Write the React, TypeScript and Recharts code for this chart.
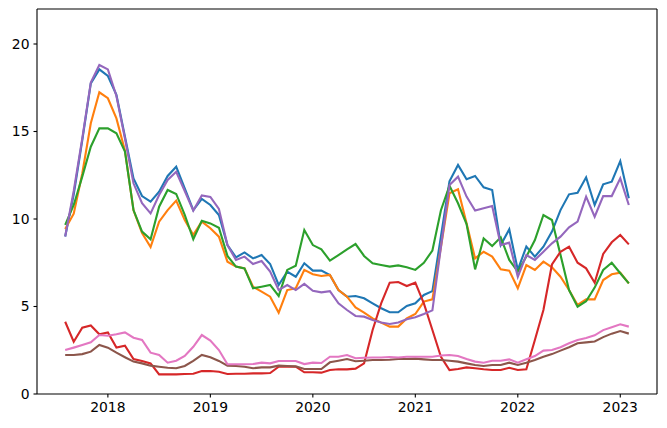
import { LineChart, Line, XAxis, YAxis, ReferenceLine } from "recharts";

// monthly observations, Aug 2017 .. Feb 2023
const months = [
  "2017-08", "2017-09", "2017-10", "2017-11", "2017-12",
  "2018-01", "2018-02", "2018-03", "2018-04", "2018-05", "2018-06", "2018-07", "2018-08", "2018-09", "2018-10", "2018-11", "2018-12",
  "2019-01", "2019-02", "2019-03", "2019-04", "2019-05", "2019-06", "2019-07", "2019-08", "2019-09", "2019-10", "2019-11", "2019-12",
  "2020-01", "2020-02", "2020-03", "2020-04", "2020-05", "2020-06", "2020-07", "2020-08", "2020-09", "2020-10", "2020-11", "2020-12",
  "2021-01", "2021-02", "2021-03", "2021-04", "2021-05", "2021-06", "2021-07", "2021-08", "2021-09", "2021-10", "2021-11", "2021-12",
  "2022-01", "2022-02", "2022-03", "2022-04", "2022-05", "2022-06", "2022-07", "2022-08", "2022-09", "2022-10", "2022-11", "2022-12",
  "2023-01", "2023-02",
];

const blue = [
  9.0, 11.4, 14.5, 17.75, 18.55, 18.17, 17.09, 14.7, 12.32, 11.31, 10.99, 11.56, 12.46, 12.99, 11.75, 10.51, 11.15,
  10.8, 10.23, 8.51, 7.81, 8.09, 7.75, 7.94, 7.43, 6.23, 6.99, 6.7, 7.47,
  7.05, 7.05, 6.8, 5.94, 5.56, 5.6, 5.47, 5.18, 4.9, 4.67, 4.67, 5.03,
  5.18, 5.66, 5.88, 9.0, 12.15, 13.09, 12.27, 12.46, 11.81, 11.66, 8.51, 9.41,
  7.09, 8.42, 7.85, 8.42, 9.28, 10.51, 11.41, 11.5, 12.38, 10.8, 11.98, 12.13,
  13.31, 11.18,
];
const orange = [
  9.43, 10.3, 12.6, 15.47, 17.24, 16.9, 15.75, 13.9, 10.5, 9.2, 8.4, 9.85, 10.51, 11.05, 9.94, 9.09, 9.85,
  9.47, 8.99, 7.56, 7.28, 7.18, 6.13, 5.85, 5.56, 4.65, 5.94, 6.04, 7.09,
  6.84, 6.74, 6.8, 5.94, 5.56, 4.95, 4.65, 4.32, 4.08, 3.85, 3.85, 4.32,
  4.57, 5.28, 5.41, 8.4, 11.47, 11.7, 9.75, 7.75, 8.13, 7.85, 7.12, 7.05,
  6.04, 7.37, 7.09, 7.56, 7.24, 6.7, 5.94, 5.09, 5.41, 5.41, 6.51, 6.84,
  6.93, 6.32,
];
const green = [
  9.66, 10.8, 12.42, 14.13, 15.18, 15.18, 14.9, 13.85, 10.51, 9.28, 8.84, 10.7, 11.66, 11.43, 10.23, 8.84, 9.9,
  9.75, 9.5, 7.89, 7.28, 7.18, 6.04, 6.13, 6.23, 5.6, 7.09, 7.33, 9.37,
  8.51, 8.27, 7.62, 7.94, 8.27, 8.57, 7.89, 7.47, 7.37, 7.28, 7.35, 7.24,
  7.09, 7.5, 8.2, 10.5, 11.9, 10.9, 9.71, 7.12, 8.89, 8.46, 8.95, 7.66,
  6.99, 7.85, 8.8, 10.23, 9.94, 7.95, 5.94, 4.99, 5.3, 6.08, 7.09, 7.5,
  6.9, 6.32,
];
const red = [
  4.13, 2.99, 3.79, 3.92, 3.41, 3.52, 2.65, 2.76, 2.0, 1.89, 1.75, 1.12, 1.12, 1.12, 1.14, 1.16, 1.31,
  1.31, 1.27, 1.14, 1.16, 1.16, 1.18, 1.18, 1.2, 1.56, 1.56, 1.56, 1.24,
  1.24, 1.22, 1.37, 1.41, 1.41, 1.45, 1.75, 3.66, 5.18, 6.36, 6.4, 6.17,
  6.36, 5.18, 3.66, 2.13, 1.37, 1.43, 1.52, 1.47, 1.41, 1.37, 1.37, 1.5,
  1.37, 1.41, 3.09, 4.8, 7.4, 8.13, 8.42, 7.5, 7.18, 6.36, 8.0, 8.67,
  9.09, 8.55,
];
const purple = [
  9.0, 11.6, 14.6, 17.8, 18.8, 18.55, 17.03, 14.6, 12.04, 10.9, 10.32, 11.37, 12.23, 12.7, 11.6, 10.48, 11.35,
  11.26, 10.58, 8.51, 7.66, 7.85, 7.43, 7.6, 6.99, 5.94, 6.23, 5.94, 6.29,
  5.9, 5.81, 5.88, 5.18, 4.8, 4.46, 4.42, 4.23, 4.08, 4.0, 4.08, 4.27,
  4.38, 4.57, 4.78, 8.4, 11.94, 12.42, 11.28, 10.48, 10.61, 10.74, 8.51, 8.65,
  6.7, 7.94, 7.66, 8.13, 8.61, 8.99, 9.52, 9.85, 11.28, 10.13, 11.31, 11.31,
  12.32, 10.8,
];
const brown = [
  2.23, 2.23, 2.28, 2.42, 2.8, 2.65, 2.36, 2.1, 1.85, 1.75, 1.62, 1.56, 1.5, 1.47, 1.6, 1.89, 2.23,
  2.1, 1.89, 1.62, 1.6, 1.56, 1.47, 1.52, 1.52, 1.62, 1.6, 1.58, 1.43,
  1.43, 1.43, 1.81, 1.9, 2.0, 1.87, 1.9, 1.94, 1.94, 1.96, 2.0, 2.0,
  2.02, 1.98, 1.94, 1.94, 1.9, 1.85, 1.75, 1.66, 1.6, 1.66, 1.66, 1.79,
  1.66, 1.79, 1.94, 2.13, 2.28, 2.48, 2.67, 2.9, 2.95, 3.0, 3.25, 3.45,
  3.6, 3.45,
];
const pink = [
  2.51, 2.65, 2.8, 2.95, 3.37, 3.33, 3.41, 3.52, 3.22, 3.09, 2.36, 2.23, 1.79, 1.9, 2.17, 2.7, 3.37,
  3.05, 2.51, 1.7, 1.7, 1.7, 1.71, 1.79, 1.75, 1.89, 1.89, 1.89, 1.71,
  1.79, 1.77, 2.13, 2.13, 2.23, 2.04, 2.07, 2.09, 2.09, 2.11, 2.09, 2.13,
  2.13, 2.13, 2.13, 2.2, 2.23, 2.17, 2.0, 1.85, 1.79, 1.9, 1.9, 1.98,
  1.79, 1.98, 2.17, 2.48, 2.51, 2.67, 2.9, 3.09, 3.2, 3.35, 3.65, 3.82,
  3.98, 3.85,
];

const yearTicks = [2018, 2019, 2020, 2021, 2022, 2023];
const valueTicks = [0, 5, 10, 15, 20];
const Y_MAX = 22;

const SERIES = [
  { key: "a", values: blue, color: "#1f77b4" },
  { key: "b", values: orange, color: "#ff7f0e" },
  { key: "c", values: green, color: "#2ca02c" },
  { key: "d", values: red, color: "#d62728" },
  { key: "e", values: purple, color: "#9467bd" },
  { key: "f", values: brown, color: "#8c564b" },
  { key: "g", values: pink, color: "#e377c2" },
];

// month string -> fractional year
const toYear = (m: string) => {
  const [y, mo] = m.split("-").map(Number);
  return y + (mo - 1) / 12;
};

const data = months.map((m, i) => {
  const row: Record<string, number> = { t: toYear(m) };
  for (const s of SERIES) row[s.key] = s.values[i];
  return row;
});

// matplotlib-style 5% margins on the x range
const tMin = toYear(months[0]);
const tMax = toYear(months[months.length - 1]);
const pad = (tMax - tMin) * 0.05;
const xLo = tMin - pad;
const xHi = tMax + pad;

const tickStyle = { fontSize: 13.9, fill: "#000", fontFamily: "DejaVu Sans" };
const spine = { stroke: "#000", strokeWidth: 1.1 };

export default function App() {
  return (
    <div style={{ position: "absolute", left: 0, top: 0, width: 667, height: 428, background: "#fff" }}>
      <LineChart
        width={667}
        height={428}
        data={data}
        margin={{ top: 9, right: 10, left: 0, bottom: 0 }}
      >
        <XAxis
          type="number"
          dataKey="t"
          domain={[xLo, xHi]}
          ticks={yearTicks}
          tickFormatter={(v) => String(Math.round(v))}
          allowDataOverflow
          height={34}
          tick={tickStyle}
          tickSize={3.5}
          tickMargin={5}
          axisLine={spine}
          tickLine={spine}
        />
        <YAxis
          domain={[0, Y_MAX]}
          ticks={valueTicks}
          allowDataOverflow
          width={37}
          tick={tickStyle}
          tickSize={3.5}
          tickMargin={4}
          axisLine={spine}
          tickLine={spine}
        />
        {/* top and right spines */}
        <ReferenceLine y={Y_MAX} stroke="#000" strokeWidth={1.1} ifOverflow="visible" />
        <ReferenceLine x={xHi} stroke="#000" strokeWidth={1.1} ifOverflow="visible" />
        {SERIES.map((s) => (
          <Line
            key={s.key}
            type="linear"
            dataKey={s.key}
            stroke={s.color}
            strokeWidth={2.1}
            dot={false}
            isAnimationActive={false}
          />
        ))}
      </LineChart>
    </div>
  );
}
